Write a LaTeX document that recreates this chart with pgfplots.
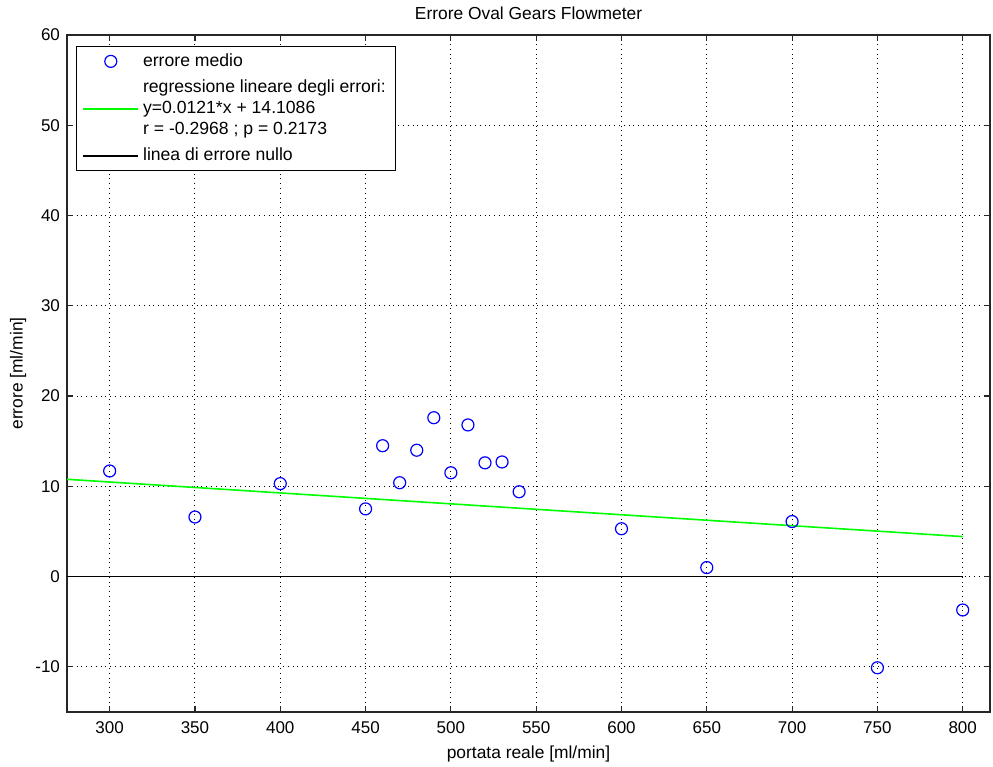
\documentclass[border=0pt]{standalone}
\usepackage{fontspec}
\setmainfont{Liberation Sans}
\usepackage{pgfplots}
\pgfplotsset{compat=1.18}

\definecolor{mblue}{RGB}{0,0,255}
\definecolor{mgreen}{RGB}{0,255,0}

\begin{document}
\begin{tikzpicture}
\begin{axis}[
    name=ax,
    scale only axis,
    width=461.5pt, height=338.5pt,
    xmin=275, xmax=816,
    ymin=-15, ymax=60,
    xtick={300,350,...,800},
    ytick={-10,0,...,60},
    tick align=inside,
    major tick length=3pt,
    xtick pos=both, ytick pos=both,
    grid=major,
    grid style={black, dotted, line width=0.5pt},
    axis line style={black!85, line width=0.6pt},
    every tick/.style={black!85, line width=0.6pt},
    tick label style={font=\fontsize{8.5}{9}\selectfont},
    xticklabel style={yshift=-1.5pt},
    /pgf/number format/assume math mode=true,
    title={Errore Oval Gears Flowmeter},
    title style={font=\fontsize{8.7}{9}\selectfont, at={(axis description cs:0.5,1.0148)}, anchor=center},
    xlabel={portata reale [ml/min]},
    ylabel={errore [ml/min]},
    label style={font=\fontsize{8.7}{9}\selectfont},
    xlabel style={at={(axis description cs:0.5,-0.062)}, anchor=center},
    ylabel style={at={(axis description cs:-0.053,0.5)}, anchor=center},
    legend style={at={(axis description cs:0,1)}, anchor=north west,
        xshift=4.5pt, yshift=-5.5pt, draw=black,
        line width=0.5pt, font=\fontsize{8.8}{10.5}\selectfont,
        nodes={align=left}, inner xsep=3pt, inner ysep=1.5pt, row sep=1.3pt},
    legend cell align=left,
    legend image code/.code={
        \draw[mark repeat=2, mark phase=2, #1]
            plot coordinates {(1.5pt,0pt) (15.25pt,0pt) (29pt,0pt)};},
]
\addplot[only marks, mark=o, mark size=3pt, mblue, line width=0.6pt] coordinates {
    (300,11.7) (350,6.6) (400,10.3) (450,7.5) (460,14.5) (470,10.4)
    (480,14.0) (490,17.6) (500,11.5) (510,16.8) (520,12.6) (530,12.7)
    (540,9.4) (600,5.3) (650,1.0) (700,6.1) (750,-10.1) (800,-3.7)
};
\addlegendentry{errore medio}
\addplot[draw=mgreen, line width=0.8pt] coordinates {(275,10.78) (800,4.43)};
\addlegendentry{regressione lineare degli errori:\\y=0.0121*x + 14.1086\\r = -0.2968 ; p = 0.2173}
\addplot[draw=black, line width=0.8pt] coordinates {(275,0) (800,0)};
\addlegendentry{linea di errore nullo}
\end{axis}
\pgfresetboundingbox
\path ([shift={(-33.5pt,-27.5pt)}]ax.south west) rectangle ([shift={(1.5pt,17.5pt)}]ax.north east);
\end{tikzpicture}
\end{document}
